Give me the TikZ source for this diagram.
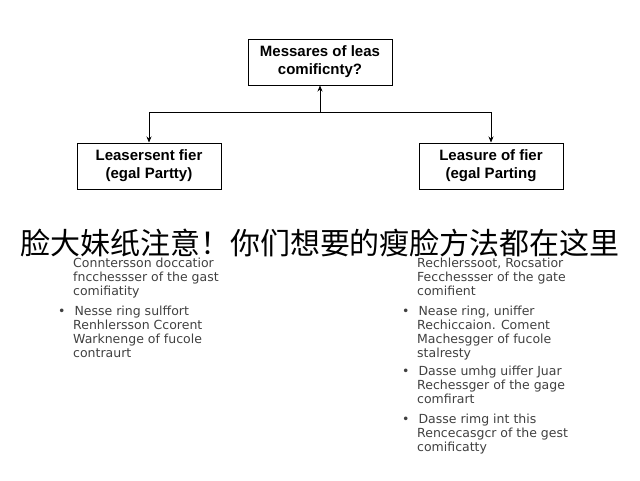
\documentclass[tikz,border=0pt]{standalone}
\usepackage{fontspec}
\usetikzlibrary{arrows.meta}
\setmainfont{Liberation Sans}
\newfontfamily\dvs{DejaVu Sans}
\newfontfamily\cjk{Noto Sans CJK SC}
\begin{document}
\begin{tikzpicture}[x=1pt,y=-1pt,
 box/.style={draw,line width=1pt,minimum width=144pt,minimum height=46pt,align=center,font=\bfseries\fontsize{15}{18}\selectfont},
 arr/.style={-{Stealth[length=6pt,width=5pt]},line width=0.7pt},
 txt/.style={anchor=north west,align=left,text=black!75,font=\dvs\fontsize{12.5}{14}\selectfont,inner sep=0pt}]
\useasboundingbox (0,0) rectangle (640,480);
\node[box] (top) at (320,62) {Messares of leas\\comificnty?};
\node[box] (l) at (149,166) {Leasersent fier\\(egal Partty)};
\node[box] (r) at (491,166) {Leasure of fier\\(egal Parting};
\coordinate (m) at (320,112);
\coordinate (ml) at (149,112);
\coordinate (mr) at (491,112);
\draw[arr] (m) -- (top);
\draw[line width=0.7pt] (ml) -- (mr);
\draw[arr] (ml) -- (l);
\draw[arr] (mr) -- (r);
\node[txt] (a1) at (73,258) {Conntersson doccatior\\fncchessser of the gast\\comifiatity};
\node[txt] (a2) at (58,306) {\textbullet\hspace{9pt}Nesse ring sulffort\\\hspace*{15pt}Renhlersson Ccorent\\\hspace*{15pt}Warknenge of fucole\\\hspace*{15pt}contraurt};
\node[txt] (b1) at (417,258) {Rechlerssoot, Rocsatior\\Fecchessser of the gate\\comifient};
\node[txt] (b2) at (402,306) {\textbullet\hspace{9pt}Nease ring, uniffer\\\hspace*{15pt}Rechiccaion. Coment\\\hspace*{15pt}Machesgger of fucole\\\hspace*{15pt}stalresty};
\node[txt] (b3) at (402,366) {\textbullet\hspace{9pt}Dasse umhg uiffer Juar\\\hspace*{15pt}Rechessger of the gage\\\hspace*{15pt}comfirart};
\node[txt] (b4) at (402,414) {\textbullet\hspace{9pt}Dasse rimg int this\\\hspace*{15pt}Rencecasgcr of the gest\\\hspace*{15pt}comificatty};
\node[font=\cjk\fontsize{30}{32}\selectfont,inner sep=0pt] (cap) at (320,243) {脸大妹纸注意！你们想要的瘦脸方法都在这里};
\end{tikzpicture}
\end{document}
